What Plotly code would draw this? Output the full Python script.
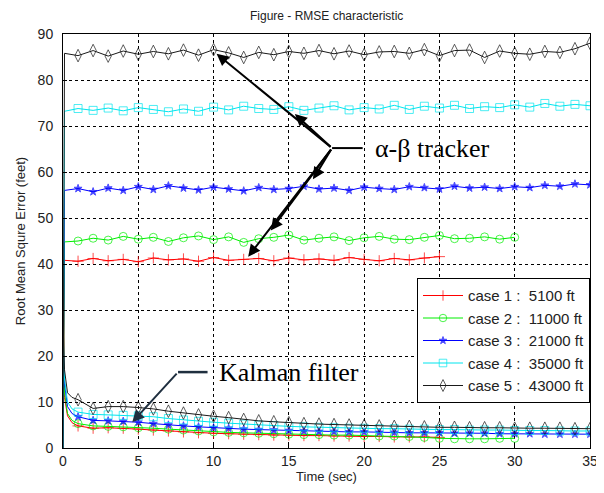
import plotly.graph_objects as go

# ---------------- data ----------------
ab_t1 = [0, 0.1] + list(range(1, 26))
ab_c1 = [0, 40.8, 40.6, 41.2, 40.7, 41.0, 40.5, 41.3, 40.9, 41.1, 40.6, 41.4, 40.8, 41.0, 41.2, 40.7, 41.3, 40.9, 41.1, 40.8, 41.4, 41.0, 40.7, 41.2, 40.9, 41.3, 41.6]
ab_t2 = [0, 0.1] + list(range(1, 31))
ab_c2 = [0, 44.8, 45.0, 45.6, 45.2, 46.0, 45.4, 45.8, 44.9, 45.7, 46.1, 45.3, 45.9, 44.7, 45.5, 45.8, 46.3, 45.2, 45.6, 45.9, 45.1, 45.7, 46.0, 45.4, 45.3, 45.8, 46.2, 45.5, 45.6, 45.9, 45.4, 45.8]
ab_t3 = [0, 0.1] + list(range(1, 36))
ab_c3 = [0, 56.0, 56.4, 55.7, 56.5, 56.0, 56.8, 56.2, 57.0, 56.5, 56.1, 56.7, 56.3, 55.9, 56.6, 56.2, 56.4, 56.9, 56.3, 56.5, 56.0, 56.7, 56.4, 56.2, 56.8, 56.6, 56.3, 56.9, 56.5, 56.7, 56.4, 56.8, 56.6, 57.1, 56.9, 57.4, 57.2]
ab_t4 = [0, 0.1] + list(range(1, 36))
ab_c4 = [0, 73.2, 73.8, 73.4, 73.9, 73.3, 74.0, 73.6, 73.1, 73.7, 73.2, 74.1, 73.5, 74.3, 73.8, 73.6, 74.2, 73.4, 73.9, 74.4, 73.5, 74.0, 73.7, 74.5, 73.6, 74.3, 73.9, 74.5, 73.8, 74.2, 74.0, 74.6, 74.1, 74.9, 74.3, 74.7, 74.4]
ab_t5 = [0, 0.1] + list(range(1, 36))
ab_c5 = [0, 85.8, 85.3, 86.4, 85.2, 86.3, 85.6, 86.2, 85.7, 86.5, 85.4, 86.6, 85.9, 84.9, 86.0, 85.5, 86.2, 85.8, 86.4, 85.7, 86.3, 85.5, 86.1, 86.2, 85.8, 86.6, 85.3, 86.4, 86.5, 84.9, 86.3, 85.8, 85.6, 86.2, 86.0, 86.8, 88.0]

kf_t1 = [0, 0.1, 0.3, 0.6] + list(range(1, 26))
kf_c1 = [20.0, 11.0, 7.0, 5.5, 4.8, 4.3, 4.4, 4.3, 4.1, 3.9, 3.7, 3.5, 3.3, 3.2, 3.1, 3.0, 2.9, 2.8, 2.8, 2.7, 2.7, 2.6, 2.6, 2.5, 2.5, 2.4, 2.4, 2.4, 2.3]
kf_t2 = [0, 0.1, 0.3, 0.6] + list(range(1, 31))
kf_c2 = [22.0, 12.0, 7.5, 6.0, 5.3, 4.8, 4.7, 4.6, 4.4, 4.3, 4.1, 3.9, 3.7, 3.5, 3.4, 3.3, 3.2, 3.1, 3.0, 2.9, 2.9, 2.8, 2.8, 2.7, 2.6, 2.6, 2.5, 2.3, 2.1, 2.0, 2.0, 2.0, 2.1, 2.1]
kf_t3 = [0, 0.1, 0.3, 0.6] + list(range(1, 36))
kf_c3 = [24.0, 14.0, 9.0, 7.5, 6.8, 6.0, 5.9, 5.8, 5.6, 5.3, 5.0, 4.8, 4.6, 4.4, 4.3, 4.1, 4.0, 3.9, 3.8, 3.7, 3.6, 3.6, 3.5, 3.5, 3.4, 3.4, 3.3, 3.3, 3.3, 3.2, 3.2, 3.2, 3.1, 3.1, 3.1, 3.0, 3.0, 3.0, 3.0]
kf_t4 = [0, 0.1, 0.3, 0.6] + list(range(1, 36))
kf_c4 = [26.0, 15.0, 10.0, 8.5, 7.8, 7.3, 7.2, 7.1, 7.0, 6.8, 6.4, 6.1, 5.8, 5.6, 5.4, 5.2, 5.0, 4.9, 4.7, 4.6, 4.5, 4.4, 4.3, 4.3, 4.2, 4.2, 4.1, 4.1, 4.0, 4.0, 3.9, 3.9, 3.9, 3.8, 3.8, 3.8, 3.7, 3.7, 3.7]
kf_t5 = [0, 0.1, 0.3, 0.6] + list(range(1, 36))
kf_c5 = [28.0, 17.0, 12.0, 11.0, 10.5, 8.6, 9.0, 9.0, 8.8, 8.5, 8.0, 7.6, 7.2, 6.9, 6.6, 6.2, 5.9, 5.7, 5.5, 5.3, 5.2, 5.1, 5.0, 4.9, 4.8, 4.7, 4.7, 4.6, 4.5, 4.5, 4.4, 4.4, 4.4, 4.3, 4.3, 4.3, 4.3, 4.2, 4.2]

case_names = ["case 1 :  5100 ft", "case 2 :  11000 ft", "case 3 :  21000 ft",
              "case 4 :  35000 ft", "case 5 :  43000 ft"]
x_ticks = [0, 5, 10, 15, 20, 25, 30, 35]
y_ticks = [0, 10, 20, 30, 40, 50, 60, 70, 80, 90]

# ---------------- styles ----------------
colors = ["#ff0000", "#00ee00", "#0000ff", "#00e5ee", "#1a1a1a"]
symbols = ["cross-thin-open", "circle-open", "star", "square-open", "diamond-tall-open"]
msizes = [8, 8, 6, 8, 9]

ab = [(ab_t1, ab_c1), (ab_t2, ab_c2), (ab_t3, ab_c3), (ab_t4, ab_c4), (ab_t5, ab_c5)]
kf = [(kf_t1, kf_c1), (kf_t2, kf_c2), (kf_t3, kf_c3), (kf_t4, kf_c4), (kf_t5, kf_c5)]

fig = go.Figure()
for i in range(5):
    for j, (t, v) in enumerate([ab[i], kf[i]]):
        n_skip = 2 if j == 0 else 4
        sizes = [0] * n_skip + [msizes[i]] * (len(t) - n_skip)
        fig.add_trace(go.Scatter(
            x=t, y=v, mode="lines+markers", name=case_names[i],
            legendgroup=f"c{i}", showlegend=(j == 0),
            line=dict(color=colors[i], width=1),
            marker=dict(symbol=symbols[i], size=sizes, color=colors[i],
                        line=dict(color=colors[i], width=1)),
        ))

# ---------------- annotations ----------------
ann = []
junc = (17.87, 65.2)
targets = [(10.2, 85.7), (15.4, 72.6), (16.6, 58.4), (13.8, 47.3), (12.3, 41.6)]
for tx, ty in targets:
    ann.append(dict(x=tx, y=ty, ax=junc[0], ay=junc[1], xref="x", yref="y",
                    axref="x", ayref="y", text="", showarrow=True,
                    arrowhead=2, arrowsize=1.2, arrowwidth=2, arrowcolor="black"))
ann.append(dict(x=20.6, y=65.2, xref="x", yref="y", text="α-β tracker",
                showarrow=False, xanchor="left", yanchor="middle",
                font=dict(family="Liberation Serif", size=26, color="black")))
ann.append(dict(x=4.6, y=5.6, ax=7.64, ay=16.5, xref="x", yref="y",
                axref="x", ayref="y", text="", showarrow=True,
                arrowhead=2, arrowsize=1.2, arrowwidth=2, arrowcolor="#1f2f3f"))
ann.append(dict(x=10.2, y=16.5, xref="x", yref="y", text="Kalman filter",
                showarrow=False, xanchor="left", yanchor="middle",
                font=dict(family="Liberation Serif", size=26, color="black")))
ann.append(dict(x=0.5, y=1.0, xref="paper", yref="paper", yshift=9,
                text="Figure - RMSE characteristic", showarrow=False,
                xanchor="center", yanchor="bottom",
                font=dict(family="Liberation Sans", size=12, color="#222")))

shapes = [
    dict(type="line", xref="x", yref="y", x0=junc[0], y0=junc[1], x1=19.9, y1=junc[1],
         line=dict(color="black", width=2)),
    dict(type="line", xref="x", yref="y", x0=7.64, y0=16.5, x1=9.6, y1=16.5,
         line=dict(color="#1f2f3f", width=2.5)),
]

axis_common = dict(showline=True, linecolor="black", linewidth=1, mirror=True,
                   showgrid=True, gridcolor="black", griddash="dot", gridwidth=1,
                   ticks="inside", ticklen=4, tickcolor="black", zeroline=False,
                   automargin=False,
                   tickfont=dict(family="Liberation Sans", size=14, color="#222"))

fig.update_layout(
    width=596, height=485,
    margin=dict(l=55, r=14, t=26, b=45),
    paper_bgcolor="white", plot_bgcolor="white",
    showlegend=True,
    legend=dict(x=1.0, y=0.41, xanchor="right", yanchor="top",
                bgcolor="white", bordercolor="black", borderwidth=1,
                font=dict(family="Liberation Sans", size=15, color="#222"),
                tracegroupgap=0, itemwidth=40),
    xaxis=dict(range=[0, 35], tickvals=x_ticks, **axis_common,
               title=dict(text="Time (sec)", standoff=2,
                          font=dict(family="Liberation Sans", size=13, color="#222"))),
    yaxis=dict(range=[0, 90], tickvals=y_ticks, ticklabelstandoff=6, **axis_common,
               title=dict(text="Root Mean Squre Error (feet)", standoff=9,
                          font=dict(family="Liberation Sans", size=13, color="#222"))),
    annotations=ann, shapes=shapes,
)

fig.write_html("out.html")
